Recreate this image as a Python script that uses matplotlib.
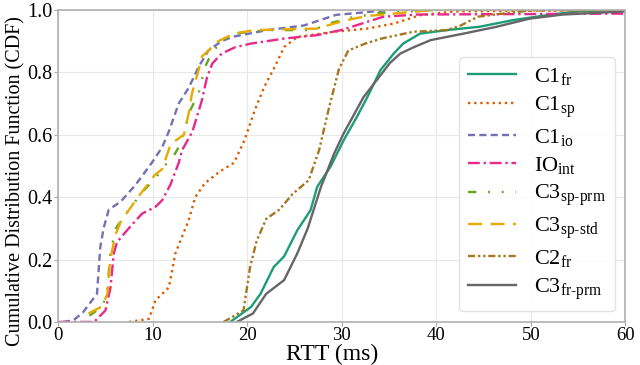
import matplotlib
matplotlib.use('Agg')
import matplotlib.pyplot as plt

plt.rcParams.update({
    'font.family': ['Liberation Serif', 'DejaVu Serif'],
    'mathtext.fontset': 'custom',
    'mathtext.rm': 'Liberation Serif',
    'mathtext.it': 'Liberation Serif:italic',
})

# CDF curves: x = RTT (ms), y = cumulative fraction
c1_fr_x = [18.2, 20.4, 21.4, 22.8, 23.9, 25.3, 26.7, 27.4, 28.8, 30.2, 31.6, 32.7, 34.1,
           35.5, 36.5, 38.3, 41.1, 44.6, 48.1, 51.7, 55.0, 60.0]
c1_fr_y = [0.0, 0.048, 0.09, 0.176, 0.21, 0.294, 0.358, 0.433, 0.497, 0.582, 0.657, 0.72,
           0.807, 0.86, 0.892, 0.924, 0.935, 0.946, 0.967, 0.983, 0.995, 1.0]

c1_sp_x = [7.5, 9.6, 10.3, 11.7, 12.4, 13.8, 14.5, 15.5, 17.0, 18.6, 19.7, 20.8, 21.8,
           22.9, 23.9, 25.3, 29.2, 32.7, 35.5, 38.3, 42.0, 60.0]
c1_sp_y = [0.0, 0.01, 0.07, 0.11, 0.22, 0.326, 0.40, 0.444, 0.48, 0.51, 0.582, 0.679,
           0.753, 0.817, 0.881, 0.913, 0.93, 0.94, 0.956, 0.983, 0.995, 1.0]

c1_io_x = [0.5, 1.6, 2.6, 4.1, 4.45, 4.8, 5.35, 6.6, 8.2, 9.9, 11.0, 11.7, 12.75, 13.8,
           14.9, 15.9, 17.3, 18.5, 22.1, 26.0, 29.4, 31.7, 35.0, 60.0]
c1_io_y = [0.0, 0.005, 0.03, 0.09, 0.24, 0.30, 0.36, 0.385, 0.44, 0.51, 0.56, 0.61, 0.70,
           0.75, 0.82, 0.87, 0.90, 0.914, 0.935, 0.95, 0.984, 0.99, 1.0, 1.0]

io_int_x = [0.0, 3.8, 5.0, 5.53, 5.88, 6.23, 7.46, 8.87, 10.3, 11.0, 11.87, 12.75, 13.1,
            14.2, 15.2, 15.75, 16.3, 17.3, 18.7, 20.4, 23.9, 27.4, 29.9, 31.6, 34.4,
            38.0, 60.0]
io_int_y = [0.0, 0.0, 0.037, 0.11, 0.22, 0.256, 0.30, 0.347, 0.369, 0.39, 0.44, 0.51,
            0.55, 0.61, 0.71, 0.785, 0.828, 0.86, 0.88, 0.892, 0.908, 0.919, 0.935,
            0.951, 0.978, 0.985, 0.988]

c3_sp_prm_x = [3.3, 4.7, 5.2, 5.5, 6.1, 7.0, 8.0, 9.0, 10.3, 11.2, 12.06, 12.9, 13.4,
               14.0, 14.85, 15.55, 16.2, 17.3, 19.0, 22.0, 27.0, 28.5, 31.0, 34.0, 40.0,
               60.0]
c3_sp_prm_y = [0.02, 0.05, 0.10, 0.22, 0.30, 0.34, 0.38, 0.42, 0.46, 0.50, 0.524, 0.568,
               0.62, 0.68, 0.733, 0.818, 0.86, 0.90, 0.925, 0.935, 0.935, 0.955, 0.975,
               0.99, 1.0, 1.0]

c3_sp_std_x = [3.2, 4.65, 5.2, 5.5, 6.06, 6.6, 8.2, 9.2, 10.2, 11.0, 11.9, 13.3, 13.8,
               14.15, 14.85, 15.2, 15.9, 16.95, 18.6, 20.7, 27.4, 28.5, 30.2, 32.6,
               36.2, 40.0, 60.0]
c3_sp_std_y = [0.027, 0.05, 0.09, 0.20, 0.28, 0.32, 0.39, 0.43, 0.47, 0.49, 0.57, 0.60,
               0.668, 0.732, 0.807, 0.85, 0.87, 0.90, 0.924, 0.935, 0.94, 0.95, 0.965,
               0.98, 0.99, 1.0, 1.0]

c2_fr_x = [17.5, 19.6, 20.3, 21.0, 22.0, 23.4, 24.8, 26.5, 27.6, 28.6, 29.7, 30.7, 32.5,
           34.2, 37.6, 41.1, 42.6, 44.4, 46.5, 50.0, 60.0]
c2_fr_y = [0.0, 0.037, 0.176, 0.26, 0.33, 0.36, 0.41, 0.454, 0.55, 0.68, 0.81, 0.87,
           0.892, 0.908, 0.93, 0.935, 0.95, 0.978, 0.986, 0.998, 1.0]

c3_fr_prm_x = [18.9, 20.6, 22.0, 23.9, 25.3, 26.4, 27.8, 29.2, 30.2, 32.3, 33.7, 35.1,
               36.2, 37.6, 39.4, 42.9, 46.4, 49.9, 53.4, 60.0]
c3_fr_prm_y = [0.0, 0.027, 0.09, 0.134, 0.22, 0.30, 0.433, 0.54, 0.604, 0.72, 0.775,
               0.83, 0.86, 0.88, 0.903, 0.924, 0.946, 0.972, 0.985, 0.995]

labels = [r'C1$_{\mathrm{fr}}$', r'C1$_{\mathrm{sp}}$', r'C1$_{\mathrm{io}}$',
          r'IO$_{\mathrm{int}}$', r'C3$_{\mathrm{sp\text{-}prm}}$',
          r'C3$_{\mathrm{sp\text{-}std}}$', r'C2$_{\mathrm{fr}}$',
          r'C3$_{\mathrm{fr\text{-}prm}}$']

fig = plt.figure(figsize=(6.4, 3.65), dpi=100)
ax = fig.add_axes([0.091, 0.118, 0.886, 0.855])

series = [
    (c1_fr_x, c1_fr_y, '#1b9e77', '-'),
    (c1_sp_x, c1_sp_y, '#d95f02', (0, (1, 1.6))),
    (c1_io_x, c1_io_y, '#7570b3', (0, (3, 1.8))),
    (io_int_x, io_int_y, '#e7298a', (0, (5, 1.6, 1, 1.6))),
    (c3_sp_prm_x, c3_sp_prm_y, '#66a61e', (0, (3.5, 5, 0.8, 5, 0.8, 5))),
    (c3_sp_std_x, c3_sp_std_y, '#e6ab02', (0, (6, 3.5))),
    (c2_fr_x, c2_fr_y, '#a6761d', (0, (3, 1.2, 1, 1.2, 1, 1.2))),
    (c3_fr_prm_x, c3_fr_prm_y, '#666666', '-'),
]
for (x, y, c, ls), lab in zip(series, labels):
    ax.plot(x, y, color=c, linestyle=ls, linewidth=1.7, label=lab)

ax.set_xlim(0, 60)
ax.set_ylim(0, 1.0)
ax.set_xticks(range(0, 61, 10))
ax.set_yticks([0.0, 0.2, 0.4, 0.6, 0.8, 1.0])
ax.set_yticklabels(['0.0', '0.2', '0.4', '0.6', '0.8', '1.0'])
ax.tick_params(axis='x', labelsize=13.5, length=3, color='#aaaaaa', pad=1)
ax.tick_params(axis='y', labelsize=14.5, length=3, color='#aaaaaa', pad=1)
ax.grid(True, color='#e8e8e8', linewidth=0.8)
ax.set_axisbelow(True)
for s in ax.spines.values():
    s.set_color('#b0b0b0')
    s.set_linewidth(1.2)

ax.set_xlabel('RTT (ms)', fontsize=17, labelpad=-2)
ax.xaxis.set_label_coords(0.483, -0.07)
ax.set_ylabel('Cumulative Distribution Function (CDF)', fontsize=14.5)
ax.yaxis.set_label_coords(-0.058, 0.45)

ax.legend(loc='lower right', bbox_to_anchor=(0.982, 0.036), borderaxespad=0,
          fontsize=16, handlelength=2.2, labelspacing=0.32, borderpad=0.4,
          handletextpad=0.8, frameon=True, fancybox=True, edgecolor='#e0e0e0',
          framealpha=0.9)

fig.savefig('out.png', dpi=100)
